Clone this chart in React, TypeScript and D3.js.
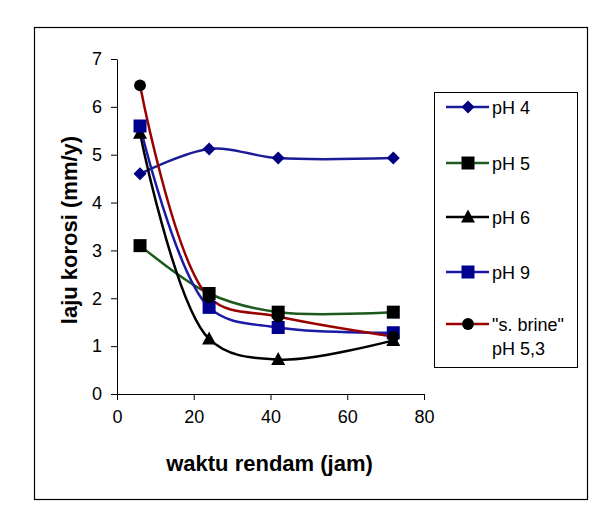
import { useEffect, useRef } from "react";
import * as d3 from "d3";

const WIDTH = 614;
const HEIGHT = 526;
const PLOT = { left: 117, right: 424, top: 59, bottom: 394 };
const FONT = "'Liberation Sans', Arial, sans-serif";

const HOURS = [6, 24, 42, 72];
const PH4 = [4.6, 5.12, 4.93, 4.93];
const PH5 = [3.1, 2.1, 1.71, 1.71];
const PH6 = [5.45, 1.15, 0.72, 1.12];
const PH9 = [5.6, 1.81, 1.39, 1.28];
const BRINE = [6.45, 2.02, 1.62, 1.2];

const X_TICKS = [0, 20, 40, 60, 80];
const Y_TICKS = [0, 1, 2, 3, 4, 5, 6, 7];

type Shape = "diamond" | "square" | "triangle" | "circle";

const SERIES: {
  label: string[];
  values: number[];
  line: string;
  marker: string;
  shape: Shape;
}[] = [
  { label: ["pH 4"], values: PH4, line: "#1c1c98", marker: "#000080", shape: "diamond" },
  { label: ["pH 5"], values: PH5, line: "#1d5a1d", marker: "#000000", shape: "square" },
  { label: ["pH 6"], values: PH6, line: "#000000", marker: "#000000", shape: "triangle" },
  { label: ["pH 9"], values: PH9, line: "#1a1aa6", marker: "#000090", shape: "square" },
  { label: ['"s. brine"', "pH 5,3"], values: BRINE, line: "#990000", marker: "#000000", shape: "circle" },
];

const LEGEND_Y = [107, 163, 217, 272, 324];

function markerPath(shape: Shape): string {
  switch (shape) {
    case "diamond":
      return "M0,-6.5L6.5,0L0,6.5L-6.5,0Z";
    case "square":
      return "M-6.5,-6.5H6.5V6.5H-6.5Z";
    case "triangle":
      return "M0,-7.5L7,5.5H-7Z";
    default:
      return d3.symbol(d3.symbolCircle, 110)() as string;
  }
}

export default function App() {
  const svgRef = useRef<SVGSVGElement>(null);

  useEffect(() => {
    if (!svgRef.current) return;
    const svg = d3.select(svgRef.current);
    svg.selectAll("*").remove();

    const x = d3.scaleLinear().domain([0, 80]).range([PLOT.left, PLOT.right]);
    const y = d3.scaleLinear().domain([0, 7]).range([PLOT.bottom, PLOT.top]);

    // outer chart frame
    svg
      .append("rect")
      .attr("x", 34.5)
      .attr("y", 27.5)
      .attr("width", 553)
      .attr("height", 472)
      .attr("fill", "#fff")
      .attr("stroke", "#000")
      .attr("stroke-width", 1.2);

    // x-axis
    svg
      .append("g")
      .attr("transform", `translate(0,${PLOT.bottom})`)
      .call(
        d3
          .axisBottom(x)
          .tickValues(X_TICKS)
          .tickFormat(d3.format("d"))
          .tickSize(6)
          .tickSizeOuter(0)
          .tickPadding(10)
      )
      .call((g) => g.select(".domain").attr("stroke", "#000"))
      .call((g) =>
        g
          .selectAll(".tick text")
          .style("font-family", FONT)
          .style("font-size", "18px")
          .attr("fill", "#000")
      );

    // y-axis
    svg
      .append("g")
      .attr("transform", `translate(${PLOT.left},0)`)
      .call(
        d3
          .axisLeft(y)
          .tickValues(Y_TICKS)
          .tickFormat(d3.format("d"))
          .tickSize(6)
          .tickSizeOuter(0)
          .tickPadding(9)
      )
      .call((g) => g.select(".domain").attr("stroke", "#000"))
      .call((g) =>
        g
          .selectAll(".tick text")
          .style("font-family", FONT)
          .style("font-size", "18px")
          .attr("fill", "#000")
      );

    svg
      .append("text")
      .attr("x", (PLOT.left + PLOT.right) / 2 - 1)
      .attr("y", 471)
      .attr("text-anchor", "middle")
      .style("font-family", FONT)
      .style("font-size", "22px")
      .style("font-weight", "bold")
      .text("waktu rendam (jam)");

    svg
      .append("text")
      .attr("transform", "translate(77,230) rotate(-90)")
      .attr("text-anchor", "middle")
      .style("font-family", FONT)
      .style("font-size", "22px")
      .style("font-weight", "bold")
      .text("laju korosi (mm/y)");

    const line = d3
      .line<number>()
      .x((_, i) => x(HOURS[i]))
      .y((d) => y(d))
      .curve(d3.curveCatmullRom.alpha(0.5));

    SERIES.forEach((s) => {
      svg
        .append("path")
        .attr("d", line(s.values))
        .attr("fill", "none")
        .attr("stroke", s.line)
        .attr("stroke-width", 2.5);
    });

    SERIES.forEach((s) => {
      svg
        .append("g")
        .selectAll("path")
        .data(s.values)
        .join("path")
        .attr("transform", (d, i) => `translate(${x(HOURS[i])},${y(d)})`)
        .attr("d", markerPath(s.shape))
        .attr("fill", s.marker);
    });

    // legend
    const legend = svg.append("g");
    legend
      .append("rect")
      .attr("x", 434.5)
      .attr("y", 92.5)
      .attr("width", 143)
      .attr("height", 275)
      .attr("fill", "#fff")
      .attr("stroke", "#000")
      .attr("stroke-width", 1);

    SERIES.forEach((s, i) => {
      const ly = LEGEND_Y[i];
      legend
        .append("line")
        .attr("x1", 446)
        .attr("x2", 489)
        .attr("y1", ly)
        .attr("y2", ly)
        .attr("stroke", s.line)
        .attr("stroke-width", 2.5);
      legend
        .append("path")
        .attr("transform", `translate(468,${ly})`)
        .attr("d", markerPath(s.shape))
        .attr("fill", s.marker);
      s.label.forEach((t, j) => {
        legend
          .append("text")
          .attr("x", 492)
          .attr("y", ly + 6.5 + j * 24)
          .style("font-family", FONT)
          .style("font-size", "18px")
          .text(t);
      });
    });
  }, []);

  return (
    <svg
      ref={svgRef}
      width={WIDTH}
      height={HEIGHT}
      style={{ position: "absolute", left: 0, top: 0, background: "#fff" }}
    />
  );
}
